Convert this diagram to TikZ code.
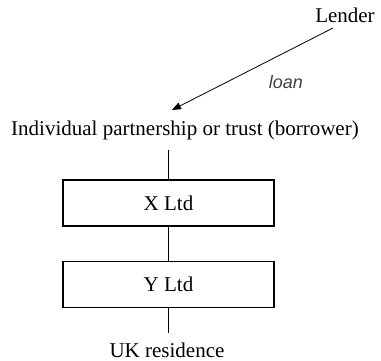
\documentclass[tikz,border=0pt]{standalone}
\usepackage{fontspec}
\setmainfont{Liberation Serif}
\newfontfamily\loanfont{Liberation Sans}
\usetikzlibrary{arrows.meta}
\begin{document}
\begin{tikzpicture}[x=1pt,y=-1pt,
  lbl/.style={font=\fontsize{21}{24}\selectfont, inner sep=0pt},
  box/.style={draw, line width=1.3pt, minimum width=211pt, minimum height=46pt, inner sep=0pt, font=\fontsize{21}{24}\selectfont},
  link/.style={line width=0.8pt}]
\useasboundingbox (0,0) rectangle (381,361);
\node[lbl] (lender) at (345,15) {Lender};
\node[lbl, anchor=center] (borrower) at (185,130) {Individual partnership or trust (borrower)};
\node[font=\loanfont\itshape\fontsize{18}{21}\selectfont, text=black!75, inner sep=0pt] (loan) at (286,82) {loan};
\coordinate (astart) at (333,28);
\coordinate (aend) at (172,110);
\draw[link, -{Triangle[length=9pt,width=7pt]}] (astart) -- (aend);
\node[box] (x) at (168.5,203) {X Ltd};
\node[box] (y) at (168.5,284.5) {Y Ltd};
\node[lbl] (uk) at (167,350) {UK residence};
\coordinate (top) at (168.5,150);
\coordinate (bot) at (168.5,333);
\draw[link] (top) -- (x.north);
\draw[link] (x.south) -- (y.north);
\draw[link] (y.south) -- (bot);
\end{tikzpicture}
\end{document}
